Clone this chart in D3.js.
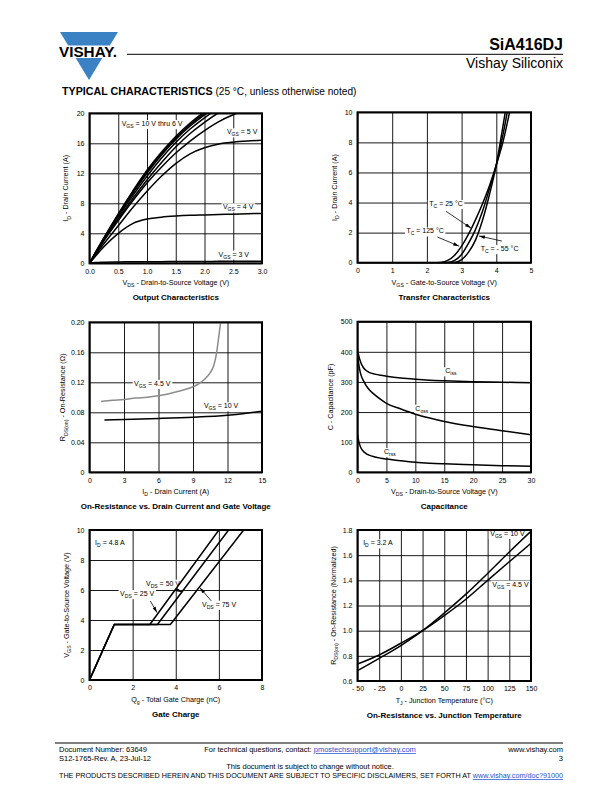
<!DOCTYPE html>
<html><head><meta charset="utf-8">
<script src="https://cdn.jsdelivr.net/npm/d3@7"></script>
<style>body{margin:0;background:#fff}svg{display:block}text{font-family:"Liberation Sans",Arial,Helvetica,sans-serif}</style>
</head><body><svg id="page" width="612" height="792"></svg>
<script>
// ---------------- DATA ----------------
// Output characteristics (VDS in V, ID in A)
const outVds  = [0,0.1,0.25,0.5,0.75,1.0,1.25,1.5,1.75,2.0,2.25,2.5,2.75,3.0];
const outId10 = [0,1.4,3.4,6.6,9.6,12.4,14.8,16.9,18.7,20.2,21.5,22.6,23.5,24.3];
const outId9  = [0,1.4,3.35,6.5,9.5,12.2,14.6,16.7,18.5,20.0,21.3,22.4,23.3,24.1];
const outId8  = [0,1.35,3.3,6.4,9.3,12.0,14.4,16.5,18.3,19.8,21.1,22.2,23.1,23.9];
const outId7  = [0,1.3,3.2,6.2,9.0,11.6,14.0,16.1,17.9,19.4,20.7,21.8,22.7,23.5];
const outId6  = [0,1.25,3.1,5.9,8.6,11.1,13.4,15.5,17.3,18.8,20.1,21.2,22.1,22.9];
const outId5  = [0,1.2,3.0,5.7,8.3,10.7,12.8,14.7,16.3,17.7,18.9,19.8,20.5,21.1];
const outId45 = [0,1.05,2.6,5.0,7.4,9.6,11.6,13.3,14.6,15.4,15.9,16.15,16.3,16.4];
const outId4  = [0,0.9,2.2,4.0,5.3,5.9,6.15,6.3,6.4,6.45,6.5,6.55,6.6,6.65];
const outId3  = [0,0.1,0.15,0.18,0.2,0.21,0.22,0.23,0.24,0.25,0.26,0.27,0.28,0.29];

// Transfer characteristics (VGS in V, ID in A)
const trVgs   = [0,0.5,1,1.5,2,2.2,2.4,2.6,2.8,3.0,3.2,3.4,3.6,3.8,4.0,4.2,4.4,4.6];
const trId125 = [0,0,0,0,0,0,0.02,0.15,0.5,1.1,1.9,2.85,3.9,5.1,6.5,8.1,10.2,12.5];
const trId25  = [0,0,0,0,0,0,0,0.02,0.15,0.55,1.3,2.2,3.4,4.9,6.5,8.6,11.1,13.8];
const trIdM55 = [0,0,0,0,0,0,0,0,0.02,0.2,0.7,1.5,2.8,4.5,6.5,9.2,12.0,14.8];

// On-resistance vs drain current (ID in A, RDS(on) in ohm)
const rdsId45 = [1.0,2,3,4,5,6,7,8,9,9.5,10,10.5,10.8,11.0,11.15,11.3,11.4];
const rdsR45  = [0.0945,0.096,0.097,0.099,0.100,0.102,0.105,0.109,0.114,0.118,0.124,0.133,0.142,0.155,0.170,0.188,0.20];
const rdsId10 = [1.3,3,6,9,12,13.5,15];
const rdsR10  = [0.0698,0.0705,0.0718,0.0735,0.0762,0.0785,0.0815];

// Capacitance (VDS in V, C in pF)
const capVds  = [0,0.25,0.5,1,1.5,2,3,4,5,7.5,10,12.5,15,20,25,30];
const capCiss = [405,385,368,348,338,332,326,322,319,313,309,306,304,301,299,297];
const capCoss = [390,355,330,305,288,275,257,242,229,210,193,180,169,152,138,125];
const capCrss = [125,100,85,70,62,57,51,47,44,38,33,30,28,25,22,20];

// Gate charge (Qg in nC, VGS in V)
const gcQ25 = [0,1.15,2.8,6.0];
const gcQ50 = [0,1.15,3.15,6.45];
const gcQ75 = [0,1.15,3.75,7.15];
const gcVgs = [0,3.7,3.7,10];

// On-resistance vs junction temperature (TJ in degC, normalized)
const tjT    = [-50,-25,0,25,50,75,100,125,150];
const tjR10  = [0.682,0.78,0.882,1.0,1.14,1.29,1.455,1.625,1.79];
const tjR45  = [0.735,0.807,0.9,1.0,1.12,1.25,1.40,1.548,1.695];

// Tick values
const outXTicks = [0,0.5,1,1.5,2,2.5,3];
const outYTicks = [0,4,8,12,16,20];
const trXTicks  = [0,1,2,3,4,5];
const trYTicks  = [0,2,4,6,8,10];
const rdsXTicks = [0,3,6,9,12,15];
const rdsYTicks = [0,0.04,0.08,0.12,0.16,0.20];
const capXTicks = [0,5,10,15,20,25,30];
const capYTicks = [0,100,200,300,400,500];
const gcXTicks  = [0,2,4,6,8];
const gcYTicks  = [0,2,4,6,8,10];
const tjXTicks  = [-50,-25,0,25,50,75,100,125,150];
const tjYTicks  = [0.6,0.8,1.0,1.2,1.4,1.6,1.8];

// ---------------- DRAWING ----------------
const svg = d3.select('#page');
const defs = svg.append('defs');
defs.append('marker').attr('id','arr').attr('viewBox','0 0 10 6').attr('refX',10).attr('refY',3)
  .attr('markerUnits','userSpaceOnUse').attr('markerWidth',6).attr('markerHeight',3.6).attr('orient','auto')
  .append('path').attr('d','M0,0 L10,3 L0,6 Z').attr('fill','#000');

function rich(t, s, fs){
  const parts = s.split(/(_\{[^}]*\})/).filter(p=>p.length);
  let lastSub=false;
  parts.forEach(p=>{
    if(p.startsWith('_{')){
      t.append('tspan').attr('font-size',fs*0.72).attr('dy',fs*0.3).text(p.slice(2,-1));
      lastSub=true;
    } else {
      t.append('tspan').attr('dy', lastSub? -fs*0.3:0).text(p);
      lastSub=false;
    }
  });
  return t;
}

let clipN=0;
function chart(o){
  const g = svg.append('g');
  const x = d3.scaleLinear().domain(o.xd).range([o.l,o.r]);
  const y = d3.scaleLinear().domain(o.yd).range([o.b,o.t]);
  const id = 'clip'+(++clipN);
  defs.append('clipPath').attr('id',id).append('rect')
    .attr('x',o.l).attr('y',o.t).attr('width',o.r-o.l).attr('height',o.b-o.t);
  const ax = g.append('g').attr('transform',`translate(0,${o.b})`)
    .call(d3.axisBottom(x).tickValues(o.xt).tickSize(-(o.b-o.t)).tickPadding(5.5).tickFormat(o.xf));
  const ay = g.append('g').attr('transform',`translate(${o.l},0)`)
    .call(d3.axisLeft(y).tickValues(o.yt).tickSize(-(o.r-o.l)).tickPadding(5).tickFormat(o.yf));
  [ax,ay].forEach(a=>{
    a.attr('font-family',null).attr('font-size',null);
    a.select('.domain').remove();
    a.selectAll('line').attr('stroke','#000').attr('stroke-width',0.9);
    a.selectAll('text').attr('font-size',7).attr('fill','#000');
  });
  const bg = g.append('g');
  const plot = g.append('g').attr('clip-path',`url(#${id})`);
  const tx = g.append('g');
  // axis labels & title
  rich(g.append('text').attr('x',(o.l+o.r)/2).attr('y',o.b+22).attr('text-anchor','middle').attr('font-size',7.2), o.xl, 7.2);
  const yc=(o.t+o.b)/2, xc=o.l-o.yo;
  rich(g.append('text').attr('x',xc).attr('y',yc).attr('text-anchor','middle').attr('font-size',7.2)
    .attr('transform',`rotate(-90,${xc},${yc})`).attr('dy',2.5), o.yl, 7.2);
  g.append('text').attr('x',(o.l+o.r)/2).attr('y',o.b+37).attr('text-anchor','middle')
    .attr('font-size',8).attr('font-weight','bold').text(o.title);
  const c = {g,x,y,plot,tx,bg,o};
  c.frame = ()=> g.append('rect').attr('x',o.l).attr('y',o.t).attr('width',o.r-o.l).attr('height',o.b-o.t)
      .attr('fill','none').attr('stroke','#000').attr('stroke-width',2);
  c.line = (xs, ys, opt={})=>{
    const pts = xs.map((v,i)=>[v,ys[i]]);
    plot.append('path').datum(pts)
      .attr('d', d3.line().x(d=>x(d[0])).y(d=>y(d[1])).curve(opt.linear? d3.curveLinear : d3.curveMonotoneX))
      .attr('fill','none').attr('stroke',opt.color||'#000').attr('stroke-width',opt.w||1.5).attr('stroke-linejoin','round');
  };
  c.label = (dx, dy, s, anchor='start')=>{
    const t = rich(tx.append('text').attr('x',x(dx)).attr('y',y(dy)).attr('font-size',7).attr('text-anchor',anchor), s, 7);
    const bb = t.node().getBBox();
    bg.append('rect').attr('x',bb.x-1.5).attr('y',bb.y).attr('width',bb.width+3).attr('height',bb.height).attr('fill','#fff');
  };
  c.arrow = (x1,y1,x2,y2)=>{
    tx.append('line').attr('x1',x(x1)).attr('y1',y(y1)).attr('x2',x(x2)).attr('y2',y(y2))
      .attr('stroke','#000').attr('stroke-width',0.8).attr('marker-end','url(#arr)');
  };
  return c;
}

const L = {l:89.5, r:262}, R = {l:357.5, r:531};
const f1 = d3.format('.1f');

// Chart 1: Output characteristics
const c1 = chart({...L, t:113.3, b:263.3, xd:[0,3], yd:[0,20], xt:outXTicks, yt:outYTicks,
  xf:f1, yf:d=>d, xl:'V_{DS} - Drain-to-Source Voltage (V)', yl:'I_{D} - Drain Current (A)', yo:21,
  title:'Output Characteristics'});
c1.label(0.56,18.3,'V_{GS} = 10 V thru 6 V');
c1.label(2.39,17.2,'V_{GS} = 5 V');
c1.label(2.32,7.2,'V_{GS} = 4 V');
c1.label(2.245,0.9,'V_{GS} = 3 V');
[outId10,outId9,outId8,outId7,outId6,outId5,outId45,outId4,outId3].forEach(s=>c1.line(outVds,s));
c1.frame();

// Chart 2: Transfer characteristics
const c2 = chart({...R, t:112.3, b:262.7, xd:[0,5], yd:[0,10], xt:trXTicks, yt:trYTicks,
  xf:d=>d, yf:d=>d, xl:'V_{GS} - Gate-to-Source Voltage (V)', yl:'I_{D} - Drain Current (A)', yo:21,
  title:'Transfer Characteristics'});
c2.label(2.07,3.77,'T_{C} = 25 °C');
c2.label(1.41,1.95,'T_{C} = 125 °C');
c2.label(3.55,0.78,'T_{C} = - 55 °C');
[trId125,trId25,trIdM55].forEach(s=>c2.line(trVgs,s));
c2.arrow(2.55,3.42,3.27,2.3);
c2.arrow(2.3,1.71,2.93,1.1);
c2.arrow(4.16,1.44,3.5,1.78);
c2.frame();

// Chart 3: On-resistance vs drain current
const c3 = chart({...L, t:322.3, b:472.3, xd:[0,15], yd:[0,0.2], xt:rdsXTicks, yt:rdsYTicks,
  xf:d=>d, yf:d=>d===0?'0':d3.format('.2f')(d), xl:'I_{D} - Drain Current (A)', yl:'R_{DS(on)} - On-Resistance (Ω)', yo:24,
  title:'On-Resistance vs. Drain Current and Gate Voltage'});
c3.label(3.88,0.1152,'V_{GS} = 4.5 V');
c3.label(9.95,0.0853,'V_{GS} = 10 V');
c3.line(rdsId45,rdsR45,{color:'#8c8c8c'});
c3.line(rdsId10,rdsR10);
c3.frame();

// Chart 4: Capacitance
const c4 = chart({...R, t:321.7, b:472.3, xd:[0,30], yd:[0,500], xt:capXTicks, yt:capYTicks,
  xf:d=>d, yf:d=>d, xl:'V_{DS} - Drain-to-Source Voltage (V)', yl:'C - Capacitance (pF)', yo:25,
  title:'Capacitance'});
c4.label(15.17,328.7,'C_{iss}');
c4.label(10.0,204.5,'C_{oss}');
c4.label(4.59,60.8,'C_{rss}');
[capCiss,capCoss,capCrss].forEach(s=>c4.line(capVds,s));
c4.frame();

// Chart 5: Gate charge
const c5 = chart({...L, t:530, b:680, xd:[0,8], yd:[0,10], xt:gcXTicks, yt:gcYTicks,
  xf:d=>d, yf:d=>d, xl:'Q_{g} - Total Gate Charge (nC)', yl:'V_{GS} - Gate-to-Source Voltage (V)', yo:21,
  title:'Gate Charge'});
c5.label(0.26,9.0,'I_{D} = 4.8 A');
c5.label(2.62,6.29,'V_{DS} = 50 V');
c5.label(1.42,5.6,'V_{DS} = 25 V');
c5.label(5.22,4.89,'V_{DS} = 75 V');
[gcQ25,gcQ50,gcQ75].forEach(q=>c5.line(q,gcVgs,{linear:true}));
c5.arrow(4.0,6.05,4.3,5.85);
c5.arrow(2.82,5.27,3.13,4.5);
c5.arrow(5.65,5.27,5.12,6.15);
c5.frame();

// Chart 6: On-resistance vs junction temperature
const c6 = chart({...R, t:530, b:681, xd:[-50,150], yd:[0.6,1.8], xt:tjXTicks, yt:tjYTicks,
  xf:d=>d<0?'- '+Math.abs(d):d, yf:f1, xl:'T_{J} - Junction Temperature (°C)', yl:'R_{DS(on)} - On-Resistance (Normalized)', yo:22,
  title:'On-Resistance vs. Junction Temperature'});
c6.label(-43.5,1.678,'I_{D} = 3.2 A');
c6.label(103,1.753,'V_{GS} = 10 V');
c6.label(105.4,1.35,'V_{GS} = 4.5 V');
c6.line(tjT,tjR10);
c6.line(tjT,tjR45);
c6.frame();

// ---------------- HEADER ----------------
const hdr = svg.append('g');
hdr.append('path').attr('d','M60,32 L118,32 L89,80 Z').attr('fill','#3b82c4');
hdr.append('rect').attr('x',56).attr('y',45.5).attr('width',66).attr('height',12.5).attr('fill','#fff');
hdr.append('text').attr('x',59).attr('y',57.3).attr('font-size',14.5).attr('font-weight','bold')
  .attr('textLength',58).attr('lengthAdjust','spacingAndGlyphs').text('VISHAY.');
hdr.append('line').attr('x1',127).attr('x2',563).attr('y1',54.3).attr('y2',54.3).attr('stroke','#000').attr('stroke-width',1);
hdr.append('text').attr('x',563).attr('y',50).attr('text-anchor','end').attr('font-size',16).attr('font-weight','bold').text('SiA416DJ');
hdr.append('text').attr('x',563).attr('y',68).attr('text-anchor','end').attr('font-size',14).text('Vishay Siliconix');
const tc = hdr.append('text').attr('x',62).attr('y',95).attr('font-size',10.7);
tc.append('tspan').attr('font-weight','bold').text('TYPICAL CHARACTERISTICS');
tc.append('tspan').attr('font-size',10.1).text(' (25 °C, unless otherwise noted)');

// ---------------- FOOTER ----------------
const ft = svg.append('g').attr('font-size',7.5);
ft.append('line').attr('x1',55).attr('x2',563).attr('y1',743).attr('y2',743).attr('stroke','#000').attr('stroke-width',1);
ft.append('text').attr('x',59).attr('y',752).text('Document Number: 63649');
ft.append('text').attr('x',59).attr('y',761).text('S12-1765-Rev. A, 23-Jul-12');
const tq = ft.append('text').attr('x',310).attr('y',752).attr('text-anchor','middle');
tq.append('tspan').text('For technical questions, contact: ');
tq.append('tspan').attr('fill','#1f4fd0').attr('text-decoration','underline').text('pmostechsupport@vishay.com');
ft.append('text').attr('x',563).attr('y',752).attr('text-anchor','end').text('www.vishay.com');
ft.append('text').attr('x',563).attr('y',761).attr('text-anchor','end').text('3');
ft.append('text').attr('x',310).attr('y',769).attr('text-anchor','middle').text('This document is subject to change without notice.');
const dc = ft.append('text').attr('x',59).attr('y',778).attr('font-size',7.2)
  .attr('textLength',504).attr('lengthAdjust','spacingAndGlyphs');
dc.append('tspan').text('THE PRODUCTS DESCRIBED HEREIN AND THIS DOCUMENT ARE SUBJECT TO SPECIFIC DISCLAIMERS, SET FORTH AT ');
dc.append('tspan').attr('fill','#1f4fd0').attr('text-decoration','underline').text('www.vishay.com/doc?91000');
</script></body></html>
